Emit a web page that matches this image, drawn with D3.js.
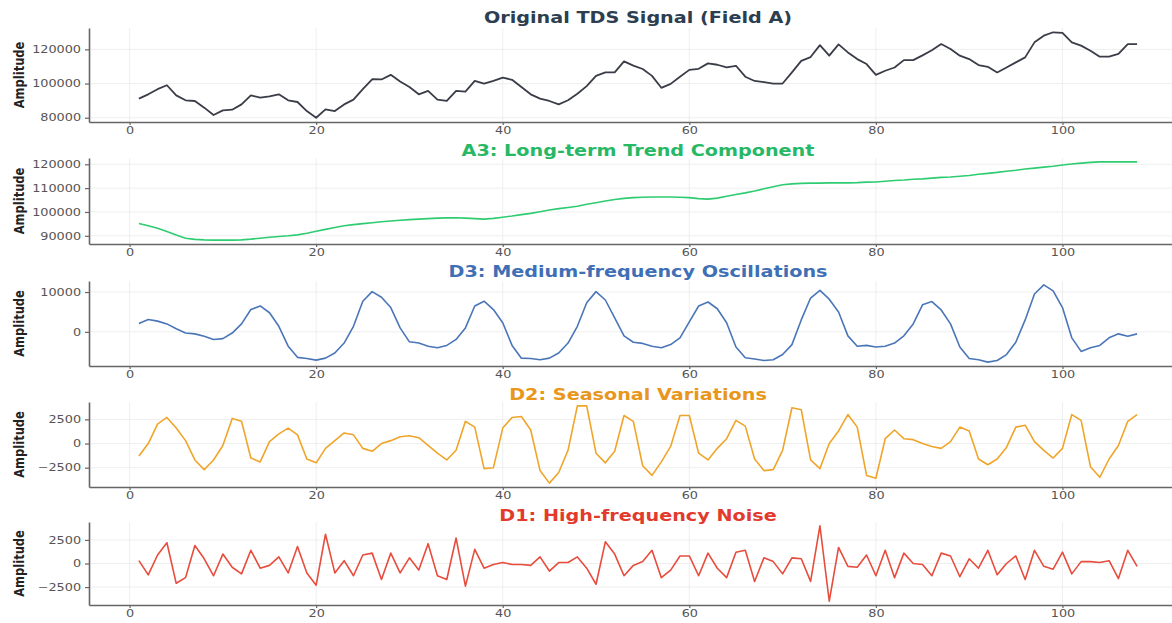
<!DOCTYPE html>
<html>
<head>
<meta charset="utf-8">
<script src="https://cdn.jsdelivr.net/npm/d3@7"></script>
<style>
  body { margin: 0; background: #fff; }
  svg { display: block; }
</style>
</head>
<body>
<svg id="chart"></svg>
<script>
const W = 1172, H = 623;
const SX = 1.28; // horizontal text stretch seen in the reference

// sample index 1..108
const t = d3.range(1, 109);

const original = [
  91200, 93700, 96700, 99000, 93100, 90200, 89800, 85900, 81600, 84300,
  84700, 87800, 93100, 91800, 92500, 93700, 90200, 89200, 83900, 80000,
  84900, 83900, 87800, 90600, 96700, 102500, 102400, 105100, 101200, 98000,
  93700, 95700, 90600, 89800, 95700, 95300, 101600, 100000, 101600, 103500,
  102200, 98000, 93700, 91200, 89800, 87800, 90200, 94000, 98500, 104500,
  106500, 106500, 113000, 110500, 108500, 104500, 97500, 99800, 104000, 108000,
  108600, 111800, 111000, 109400, 110400, 104000, 101500, 100800, 100000, 100000,
  106500, 113300, 115500, 122500, 116300, 122900, 118200, 114300, 111400, 105100,
  107500, 109400, 113700, 113700, 116500, 119500, 123100, 120200, 116300, 114300,
  110800, 109800, 106500, 109400, 112400, 115300, 124100, 128000, 130000, 129600,
  124100, 122200, 119200, 115700, 115700, 117300, 123100, 123100
];

const trend = [
  95200, 94200, 93200, 91800, 90300, 89000, 88500, 88300, 88200, 88200,
  88200, 88300, 88600, 89000, 89400, 89700, 90000, 90400, 91100, 91900,
  92700, 93500, 94200, 94700, 95100, 95500, 95900, 96200, 96500, 96800,
  97000, 97200, 97400, 97500, 97600, 97400, 97200, 97000, 97300, 97800,
  98300, 98900, 99400, 100100, 100800, 101400, 101900, 102400, 103200, 103900,
  104600, 105200, 105700, 106000, 106200, 106300, 106300, 106300, 106200, 106000,
  105600, 105400, 105800, 106600, 107300, 108000, 108800, 109700, 110600, 111400,
  111800, 112000, 112100, 112100, 112200, 112200, 112200, 112300, 112500, 112600,
  112900, 113200, 113400, 113700, 113900, 114200, 114500, 114700, 115000, 115300,
  115800, 116200, 116600, 117100, 117500, 118000, 118400, 118800, 119200, 119700,
  120100, 120500, 120800, 121000, 121000, 121000, 121000, 121000
];

const mediumOsc = [
  2100, 3100, 2700, 2000, 800, -300, -500, -1100, -1900, -1700,
  -300, 2000, 5600, 6500, 4800, 1400, -3600, -6400, -6700, -7100,
  -6600, -5300, -2800, 1400, 7700, 10100, 8700, 6100, 1000, -2500,
  -2800, -3600, -4000, -3400, -1900, 1000, 6500, 7700, 5600, 2300,
  -3400, -6600, -6700, -7000, -6600, -5300, -2800, 1400, 7300, 10100,
  8000, 3500, -1000, -2600, -2900, -3600, -4000, -3200, -1500, 2500,
  6500, 7500, 5800, 2300, -3800, -6500, -6800, -7200, -7000, -5700,
  -3200, 3000, 8500, 10400, 8200, 5000, -1000, -3600, -3400, -3800,
  -3600, -2800, -1000, 2000, 6800, 7600, 5500, 2000, -3800, -6700,
  -7000, -7600, -7200, -5700, -2600, 3000, 9500, 11800, 10300, 6100,
  -1500, -4900, -4000, -3400, -1500, -500, -1100, -500
];

const seasonal = [
  -1300, 0, 2000, 2700, 1600, 300, -1700, -2700, -1700, -200,
  2600, 2300, -1500, -1900, 200, 1000, 1600, 900, -1600, -2000,
  -500, 300, 1100, 900, -500, -800, 0, 300, 700, 800,
  600, -200, -1000, -1700, -700, 2300, 1700, -2600, -2500, 1600,
  2700, 2800, 1400, -2800, -4100, -3000, -700, 3900, 3900, -1000,
  -2000, -800, 2900, 2300, -2300, -3300, -1900, -300, 2900, 2900,
  -1000, -1700, -500, 500, 2400, 1800, -1600, -2800, -2700, -700,
  3700, 3500, -1700, -2600, 0, 1300, 3000, 1700, -3300, -3600,
  500, 1400, 500, 400, 0, -300, -500, 200, 1700, 1300,
  -1600, -2200, -1600, -400, 1700, 1900, 200, -700, -1500, -500,
  3000, 2400, -2400, -3500, -1600, -200, 2300, 3000
];

const noise = [
  300, -1200, 900, 2200, -2100, -1500, 1900, 500, -1300, 1000,
  -400, -1100, 1400, -500, -200, 700, -1000, 1800, -1000, -2300,
  3100, -1000, 300, -1300, 900, 1100, -1700, 1100, -1000, 600,
  -700, 2100, -1300, -1700, 2700, -2400, 1500, -500, -100, 100,
  -100, -100, -200, 700, -800, 100, 100, 700, -500, -2200,
  2300, 1000, -1300, -200, 200, 1400, -1500, -700, 800, 800,
  -1300, 1100, -500, -1500, 1200, 1400, -1900, 600, 200, -1100,
  600, 500, -1900, 4000, -4000, 1700, -300, -400, 900, -1300,
  1400, -1500, 1100, 0, -100, -1300, 1100, 800, -1400, 500,
  -500, 1400, -1200, 0, 800, -1700, 1400, -300, -600, 1200,
  -1100, 200, 200, 100, 300, -1600, 1400, -300
];

const titles = [
  "Original TDS Signal (Field A)",
  "A3: Long-term Trend Component",
  "D3: Medium-frequency Oscillations",
  "D2: Seasonal Variations",
  "D1: High-frequency Noise"
];
const lineColors = ["#3a3d47", "#2ecc71", "#4a76b8", "#f0a52a", "#e74c3c"];
const titleColors = ["#2c3e50", "#27b866", "#3f6fb5", "#e8961c", "#e23b2d"];
const yTicks = [
  [80000, 100000, 120000],
  [90000, 100000, 110000, 120000],
  [0, 10000],
  [-2500, 0, 2500],
  [-2500, 0, 2500]
];
const xTicks = [0, 20, 40, 60, 80, 100];
const series = [original, trend, mediumOsc, seasonal, noise];

// panel frames (pixels)
const frames = [
  { top: 28, bottom: 122, titleY: 17 },
  { top: 158, bottom: 244, titleY: 150 },
  { top: 281, bottom: 366, titleY: 271 },
  { top: 402, bottom: 487, titleY: 394 },
  { top: 522, bottom: 605, titleY: 515 }
];

const svg = d3.select("#chart").attr("width", W).attr("height", H)
  .style("font-family", "'DejaVu Sans', sans-serif");

const x = d3.scaleLinear().domain([-4.35, 113.35]).range([89, 1187]);
const xMid = (x.range()[0] + x.range()[1]) / 2;

series.forEach((vals, i) => {
  const f = frames[i];
  const ext = d3.extent(vals);
  const pad = (ext[1] - ext[0]) * 0.05;
  const y = d3.scaleLinear().domain([ext[0] - pad, ext[1] + pad]).range([f.bottom, f.top]);

  const g = svg.append("g");

  // grid
  g.selectAll(".vg").data(xTicks).join("line")
    .attr("x1", d => x(d)).attr("x2", d => x(d))
    .attr("y1", f.top).attr("y2", f.bottom)
    .attr("stroke", "#ebebeb").attr("stroke-width", 0.8);
  g.selectAll(".hg").data(yTicks[i]).join("line")
    .attr("x1", x.range()[0]).attr("x2", x.range()[1])
    .attr("y1", d => y(d)).attr("y2", d => y(d))
    .attr("stroke", "#ebebeb").attr("stroke-width", 0.8);

  // series line
  g.append("path")
    .datum(vals)
    .attr("fill", "none")
    .attr("stroke", lineColors[i])
    .attr("stroke-width", i === 0 ? 1.8 : 1.6)
    .attr("stroke-linejoin", "round")
    .attr("d", d3.line().x((d, j) => x(t[j])).y(d => y(d)));

  // axes
  const ya = g.append("g")
    .attr("transform", `translate(${x.range()[0]},0)`)
    .call(d3.axisLeft(y).tickValues(yTicks[i]).tickFormat(d3.format("d"))
      .tickSize(4).tickSizeOuter(0).tickPadding(4));
  const xa = g.append("g")
    .attr("transform", `translate(0,${f.bottom})`)
    .call(d3.axisBottom(x).tickValues(xTicks).tickSize(3).tickSizeOuter(0).tickPadding(2));

  [ya, xa].forEach(a => {
    a.select(".domain").attr("stroke", "#666").attr("stroke-width", 1.6);
    a.selectAll(".tick line").attr("stroke", "#666").attr("stroke-width", 1.2);
    a.selectAll(".tick text").attr("fill", "#555").attr("font-size", 10)
      .attr("font-family", "'DejaVu Sans', sans-serif");
  });
  ya.selectAll(".tick text").attr("x", -8 / SX).attr("transform", `scale(${SX},1)`);
  xa.selectAll(".tick text").attr("transform", `scale(${SX},1)`);

  // title
  svg.append("text")
    .attr("transform", `translate(${xMid},${f.titleY + 5.5}) scale(${SX},1)`)
    .attr("text-anchor", "middle")
    .attr("font-size", 15)
    .attr("font-weight", "bold")
    .attr("fill", titleColors[i])
    .text(titles[i]);

  // y label
  svg.append("text")
    .attr("transform", `translate(19,${(f.top + f.bottom) / 2}) scale(${SX},1) rotate(-90)`)
    .attr("text-anchor", "middle")
    .attr("dy", "0.35em")
    .attr("font-size", 11.5)
    .attr("font-weight", "bold")
    .attr("fill", "#222")
    .text("Amplitude");
});
</script>
</body>
</html>
